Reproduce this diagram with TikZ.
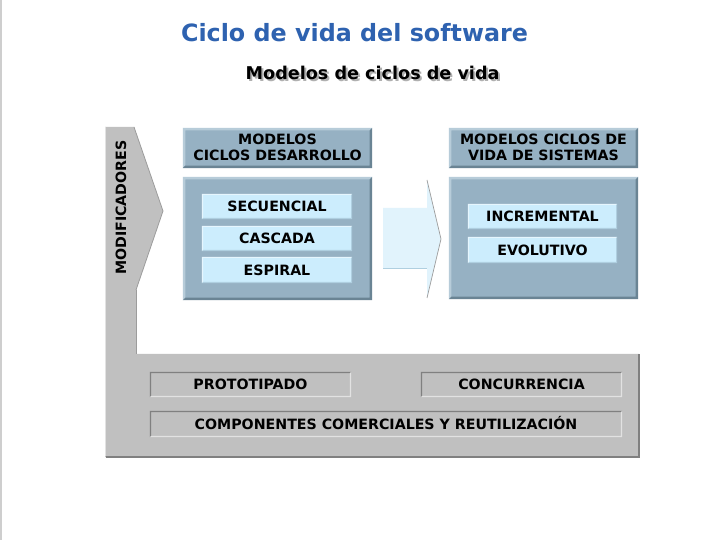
\documentclass[tikz,border=0pt]{standalone}
\usepackage{fontspec}
\setmainfont{DejaVu Sans}
\usetikzlibrary{calc}

\definecolor{titleblue}{HTML}{2E62B0}
\definecolor{panelblue}{HTML}{96B1C3}
\definecolor{panellight}{HTML}{B7CCD9}
\definecolor{paneldark}{HTML}{6A8494}
\definecolor{cellblue}{HTML}{CCEDFD}
\definecolor{celllight}{HTML}{E6F6FE}
\definecolor{celldark}{HTML}{AFCFE0}
\definecolor{basegray}{HTML}{C0C0C0}
\definecolor{edgedark}{HTML}{808080}
\definecolor{edgemid}{HTML}{9C9C9C}
\definecolor{edgelight}{HTML}{E2E2E2}
\definecolor{arrowfill}{HTML}{E1F3FC}
\definecolor{shadowgray}{HTML}{B0B0B0}

% raised/sunken edges around a rectangular node:
% #1 node, #2 top-left colour, #3 bottom-right colour, #4 edge depth
\newcommand\bevelof[4]{%
  \fill[#2] (#1.north west) -- (#1.north east) -- ($(#1.north east)+(-#4,#4)$)
            -- ($(#1.north west)+(#4,#4)$) -- ($(#1.south west)+(#4,-#4)$)
            -- (#1.south west) -- cycle;
  \fill[#3] (#1.south east) -- (#1.north east) -- ($(#1.north east)+(-#4,#4)$)
            -- ($(#1.south east)+(-#4,-#4)$) -- ($(#1.south west)+(#4,-#4)$)
            -- (#1.south west) -- cycle;
}

% text with a soft grey drop shadow, set as one box
\newcommand\shadowtext[1]{%
  \rlap{\hspace{2pt}\raisebox{-2pt}{\color{shadowgray}#1}}#1}

\tikzset{
  lbl/.style={font=\bfseries\fontsize{14.2}{16}\selectfont, text=black,
              inner sep=0pt, text height=10.3pt, text depth=0pt, align=center},
  panel/.style={fill=panelblue, inner sep=0pt},
  cell/.style={lbl, fill=cellblue},
  slot/.style={lbl, fill=basegray},
  headtext/.style={font=\bfseries\fontsize{14.2}{16}\selectfont, text=black,
              inner sep=0pt, align=center},
}

\begin{document}
\begin{tikzpicture}[x=1pt,y=-1pt]
\useasboundingbox (0,0) rectangle (721,540);
\fill[white] (0,0) rectangle (721,540);
\fill[edgelight!80!gray] (0,0) rectangle (1.5,540);

% titles
\node[anchor=base, text=titleblue, font=\bfseries\fontsize{23.8}{28}\selectfont, inner sep=0pt]
  (title) at (354.5,42) {Ciclo de vida del software};
\node[anchor=base west, text=black, font=\bfseries\fontsize{17.6}{20}\selectfont, inner sep=0pt]
  (subtitle) at (245.5,80) {\shadowtext{Modelos de ciclos de vida}};

% grey L-shaped base with the chevron column
\fill[basegray] (105,127) -- (134,127) -- (163,211) -- (136,290) -- (136,354)
  -- (639,354) -- (639,457) -- (105,457) -- cycle;
\draw[edgemid, line width=0.8] (134,127) -- (163,211) -- (136,290);
\draw[edgemid, line width=1] (136,290) -- (136,354);
\draw[edgedark, line width=1.6] (639,354.5) -- (639,457) -- (106,457);
\draw[edgelight, line width=0.8] (105.5,127) -- (105.5,456);
\node[lbl, rotate=90] (modif) at (121,207.5) {MODIFICADORES};

% left column of development cycle models
\node[panel, minimum width=189pt, minimum height=40pt] (hdrL) at (277.5,148) {};
\bevelof{hdrL}{panellight}{paneldark}{2.5}
\node[headtext] (hdrLtext) at ($(hdrL.center)+(0,-0.8)$) {MODELOS\\CICLOS DESARROLLO};

\node[panel, minimum width=189pt, minimum height=123pt] (panL) at (277.5,238.5) {};
\bevelof{panL}{panellight}{paneldark}{2.5}

\node[cell, minimum width=150pt, minimum height=25pt] (sec) at (277,206.5) {SECUENCIAL};
\node[cell, minimum width=150pt, minimum height=25pt] (cas) at (277,238.5) {CASCADA};
\node[cell, minimum width=150pt, minimum height=26pt] (esp) at (277,270) {ESPIRAL};
\foreach \n in {sec,cas,esp} {\bevelof{\n}{celllight}{celldark}{1.2}}

% broad arrow between the two columns
\fill[arrowfill] (383,208) -- (427,208) -- (427,180) -- (441,239) -- (427,298)
  -- (427,269) -- (383,269) -- cycle;
\draw[edgemid, line width=0.7] (427,180) -- (441,239) -- (427,298);
\draw[celldark, line width=1] (383,269) -- (427,269);

% right column of system life cycle models
\node[panel, minimum width=189pt, minimum height=40pt] (hdrR) at (543.5,148) {};
\bevelof{hdrR}{panellight}{paneldark}{2.5}
\node[headtext] (hdrRtext) at ($(hdrR.center)+(0,-0.8)$) {MODELOS CICLOS DE\\VIDA DE SISTEMAS};

\node[panel, minimum width=189pt, minimum height=122pt] (panR) at (543.5,238) {};
\bevelof{panR}{panellight}{paneldark}{2.5}

\node[cell, minimum width=149pt, minimum height=25pt] (inc) at (542.5,216.5) {INCREMENTAL};
\node[cell, minimum width=149pt, minimum height=26pt] (evo) at (542.5,250) {EVOLUTIVO};
\foreach \n in {inc,evo} {\bevelof{\n}{celllight}{celldark}{1.2}}

% sunken slots on the grey base
\node[slot, minimum width=201pt, minimum height=25pt] (proto) at (250.5,384.5) {PROTOTIPADO};
\node[slot, minimum width=201pt, minimum height=25pt] (conc) at (521.5,384.5) {CONCURRENCIA};
\node[slot, minimum width=472pt, minimum height=26pt] (comp) at (386,424) {COMPONENTES COMERCIALES Y REUTILIZACIÓN};
\foreach \n in {proto,conc,comp} {\bevelof{\n}{edgedark}{edgelight}{1.3}}
\end{tikzpicture}
\end{document}
